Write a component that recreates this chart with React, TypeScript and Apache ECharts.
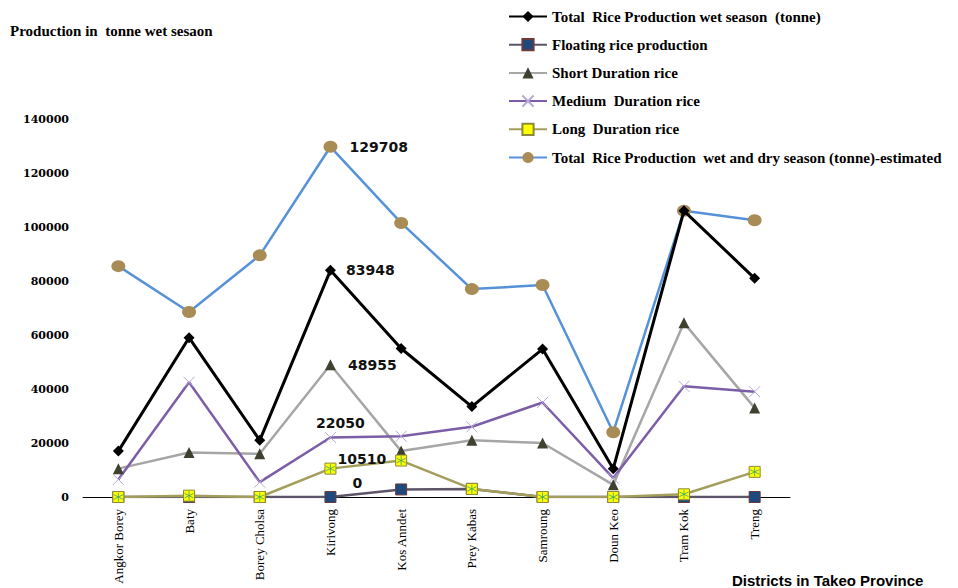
import React, { useEffect, useRef } from "react";
import * as echarts from "echarts";

const districts = ["Angkor Borey", "Baty", "Borey Cholsa", "Kirivong", "Kos Anndet", "Prey Kabas", "Samroung", "Doun Keo", "Tram Kok", "Treng"];
const totalWet = [17000, 59000, 21000, 83948, 55000, 33500, 54800, 10500, 106000, 81000];
const floating = [0, 0, 0, 0, 2800, 3000, 0, 0, 0, 0];
const shortDur = [10500, 16500, 16000, 48955, 17000, 21000, 20000, 4500, 64500, 33000];
const mediumDur = [6500, 42500, 5500, 22050, 22500, 26000, 35000, 7000, 41000, 39000];
const longDur = [0, 500, 0, 10510, 13500, 3000, 0, 0, 1000, 9300];
const totalWetDry = [85500, 68500, 89500, 129708, 101500, 77000, 78500, 24000, 106000, 102500];
const yTicks = [0, 20000, 40000, 60000, 80000, 100000, 120000, 140000];

const names = [
  "Total  Rice Production wet season  (tonne)",
  "Floating rice production",
  "Short Duration rice",
  "Medium  Duration rice",
  "Long  Duration rice",
  "Total  Rice Production  wet and dry season (tonne)-estimated",
];

const labelFont = { fontFamily: "DejaVu Sans", fontWeight: "bold" as const, fontSize: 14, color: "#111" };

function withLabel(arr: number[], idx: number, cfg: any) {
  return arr.map((v, i) => (i === idx ? { value: v, label: { show: true, ...labelFont, ...cfg } } : v));
}

const X_PATH = "path://M0,0L10,10M10,0L0,10";
const AST_PATH = "path://M5,0L5,10M0,2.5L10,7.5M10,2.5L0,7.5";

export default function App() {
  const ref = useRef<HTMLDivElement>(null);
  useEffect(() => {
    if (!ref.current) return;
    const chart = echarts.init(ref.current, undefined, { renderer: "svg" });
    chart.setOption({
      animation: false,
      backgroundColor: "#ffffff",
      title: [
        {
          text: "Production in  tonne wet sesaon",
          left: 5,
          top: 18,
          textStyle: { fontFamily: "Liberation Serif", fontWeight: 900, fontSize: 15, color: "#000" },
        },
        {
          text: "Districts in Takeo Province",
          left: 727,
          top: 568,
          textStyle: { fontFamily: "Liberation Sans", fontWeight: "bold", fontSize: 15, color: "#000" },
        },
      ],
      legend: {
        data: names,
        orient: "vertical",
        left: 508,
        top: 9,
        padding: 0,
        itemWidth: 38,
        itemHeight: 14,
        itemGap: 13.2,
        textStyle: { fontFamily: "Liberation Serif", fontWeight: "bold", fontSize: 15, color: "#000" },
      },
      grid: { left: 83, right: 168, top: 119, bottom: 91 },
      xAxis: {
        type: "category",
        data: districts,
        boundaryGap: true,
        axisLine: { lineStyle: { color: "#000", width: 1 } },
        axisTick: { show: false },
        axisLabel: {
          rotate: 90,
          margin: 12,
          interval: 0,
          fontFamily: "Liberation Serif",
          fontSize: 13,
          color: "#000",
        },
      },
      yAxis: {
        type: "value",
        min: yTicks[0],
        max: yTicks[yTicks.length - 1],
        interval: 20000,
        axisLine: { show: false },
        axisTick: { show: false },
        splitLine: { show: false },
        axisLabel: {
          margin: 14,
          fontFamily: "DejaVu Serif",
          fontWeight: "bold",
          fontSize: 11,
          color: "#000",
          formatter: (v: number) => String(v),
        },
      },
      series: [
        {
          name: names[5],
          type: "line",
          data: withLabel(totalWetDry, 3, { position: "right", distance: 12 }),
          symbol: "circle",
          symbolSize: [14, 12],
          lineStyle: { color: "#5592d8", width: 2.5 },
          itemStyle: { color: "#a98c55" },
          z: 2,
        },
        {
          name: names[0],
          type: "line",
          data: withLabel(totalWet, 3, { position: "right", distance: 10 }),
          symbol: "diamond",
          symbolSize: 11,
          lineStyle: { color: "#000", width: 3 },
          itemStyle: { color: "#000" },
          z: 3,
        },
        {
          name: names[2],
          type: "line",
          data: withLabel(shortDur, 3, { position: "right", distance: 12 }),
          symbol: "triangle",
          symbolSize: 11,
          lineStyle: { color: "#a6a6a6", width: 2.5 },
          itemStyle: { color: "#3d4230" },
          z: 3,
        },
        {
          name: names[3],
          type: "line",
          data: withLabel(mediumDur, 3, { position: "top", distance: 1, offset: [10, 0] }),
          symbol: X_PATH,
          symbolSize: 11,
          lineStyle: { color: "#7b5ea7", width: 2.5 },
          itemStyle: { color: "#7b5ea7", borderColor: "#b8a8d8", borderWidth: 1 },
          z: 3,
        },
        {
          name: names[1],
          type: "line",
          data: withLabel(floating, 3, { position: "right", distance: 16, offset: [0, -14] }),
          symbol: "rect",
          symbolSize: 11,
          lineStyle: { color: "#5c5468", width: 2.5 },
          itemStyle: { color: "#1f497d", borderColor: "#6b3a3a", borderWidth: 1 },
          z: 3,
        },
        {
          name: names[4],
          type: "line",
          data: withLabel(longDur, 3, { position: "right", distance: 1, offset: [0, -10] }),
          symbol: "rect",
          symbolSize: 11,
          lineStyle: { color: "#a39e5c", width: 2.5 },
          itemStyle: { color: "#ffff00", borderColor: "#8a8a3a", borderWidth: 1 },
          z: 4,
        },
        {
          name: "longAsterisk",
          type: "scatter",
          data: longDur,
          symbol: AST_PATH,
          symbolSize: 9,
          itemStyle: { color: "none", borderColor: "#3aa36a", borderWidth: 1 },
          silent: true,
          z: 5,
        },
      ],
    });
    return () => chart.dispose();
  }, []);
  return <div ref={ref} style={{ position: "fixed", left: 0, top: 0, width: 958, height: 588 }} />;
}
